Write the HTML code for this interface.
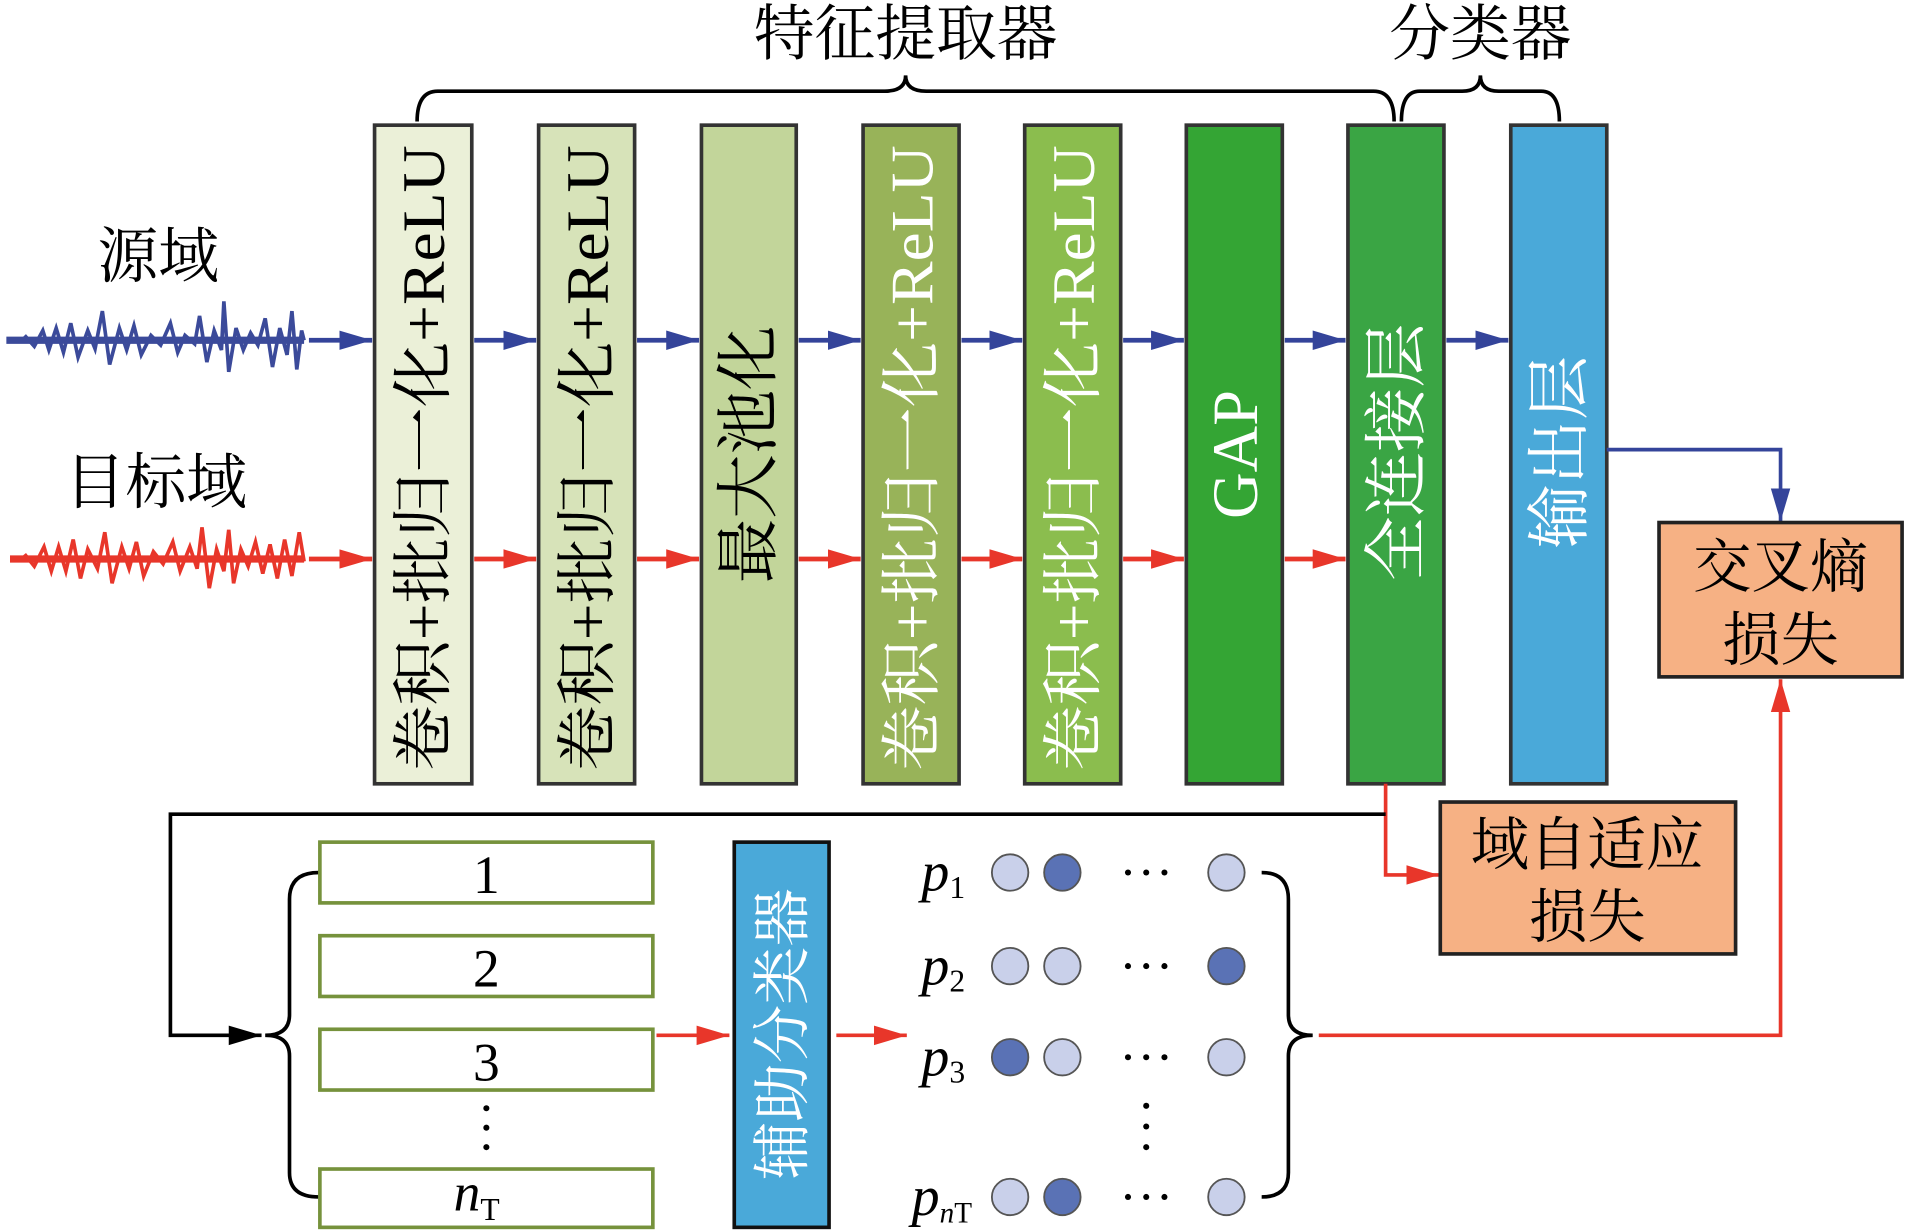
<!DOCTYPE html>
<html><head><meta charset="utf-8"><style>
html,body{margin:0;padding:0;background:#fff;}
svg{display:block;}
text{font-family:"Liberation Serif","Noto Serif CJK SC","Noto Sans CJK SC",serif;}
</style></head><body>
<svg width="1906" height="1231" viewBox="0 0 1568 1013" xmlns="http://www.w3.org/2000/svg">
<defs>
<marker id="ab" markerWidth="28" markerHeight="18" refX="27" refY="9" orient="auto" markerUnits="userSpaceOnUse"><path d="M0,1 L27,9 L0,17z" fill="#34449a"/></marker>
<marker id="ar" markerWidth="28" markerHeight="18" refX="27" refY="9" orient="auto" markerUnits="userSpaceOnUse"><path d="M0,1 L27,9 L0,17z" fill="#e8362a"/></marker>
<marker id="ak" markerWidth="28" markerHeight="18" refX="27" refY="9" orient="auto" markerUnits="userSpaceOnUse"><path d="M0,1 L27,9 L0,17z" fill="#000"/></marker>
</defs>
<!-- top labels and braces -->
<text x="745" y="45" font-size="50" text-anchor="middle">特征提取器</text>
<text x="1218" y="45" font-size="50" text-anchor="middle">分类器</text>
<path d="M343,100 Q343,75 360,75 L728,75 Q745,75 745,62 Q745,75 762,75 L1130,75 Q1147,75 1147,100" fill="none" stroke="#000" stroke-width="3"/>
<path d="M1153,100 Q1153,75 1168,75 L1203,75 Q1218,75 1218,62 Q1218,75 1233,75 L1268,75 Q1283,75 1283,100" fill="none" stroke="#000" stroke-width="3"/>
<!-- domain labels -->
<text x="130" y="228" font-size="50" text-anchor="middle">源域</text>
<text x="128" y="414" font-size="50" text-anchor="middle">目标域</text>
<!-- signals -->
<line x1="5" y1="280" x2="250" y2="280" stroke="#3b4a9a" stroke-width="6"/>
<path d="M20,276 L28,285 L35,272 L40,288 L46,270 L52,290 L58,266 L64,294 L72,272 L78,287 L84,256 L90,300 L98,270 L104,288 L110,268 L116,292 L124,276 L132,284 L140,266 L146,290 L152,276 L160,283 L164,260 L170,298 L176,272 L182,288 L184,248 L188,306 L194,270 L200,288 L206,274 L212,284 L218,262 L224,302 L230,270 L236,292 L240,256 L244,304 L248,272 L250,280" fill="none" stroke="#3b4a9a" stroke-width="3"/>
<line x1="8" y1="460" x2="250" y2="460" stroke="#e8362a" stroke-width="6"/>
<path d="M20,456 L28,466 L36,450 L42,470 L48,450 L54,470 L60,444 L66,476 L72,452 L80,468 L86,438 L92,480 L100,450 L106,468 L112,446 L118,474 L126,454 L134,464 L142,446 L148,470 L156,450 L162,468 L166,434 L172,484 L178,452 L184,470 L188,436 L192,480 L198,452 L204,466 L210,446 L216,472 L222,448 L228,476 L234,444 L240,474 L246,438 L250,462" fill="none" stroke="#e8362a" stroke-width="3"/>
<!-- blocks -->
<g stroke="#333" stroke-width="3">
<rect x="308" y="103" width="80" height="542" fill="#ebf0d8"/>
<rect x="443" y="103" width="79" height="542" fill="#d7e3b9"/>
<rect x="577" y="103" width="78" height="542" fill="#c2d59a"/>
<rect x="710" y="103" width="79" height="542" fill="#98b359"/>
<rect x="843" y="103" width="79" height="542" fill="#8bbd4e"/>
<rect x="976" y="103" width="79" height="542" fill="#34a534"/>
<rect x="1109" y="103" width="79" height="542" fill="#3aa544"/>
<rect x="1243" y="103" width="79" height="542" fill="#4aa9d9"/>
</g>
<g font-size="50" text-anchor="middle">
<text transform="translate(365,377) rotate(-90)" textLength="515" lengthAdjust="spacingAndGlyphs">卷积+批归一化+ReLU</text>
<text transform="translate(500,377) rotate(-90)" textLength="515" lengthAdjust="spacingAndGlyphs">卷积+批归一化+ReLU</text>
<text transform="translate(634,374) rotate(-90)" font-size="53">最大池化</text>
<text transform="translate(767,377) rotate(-90)" fill="#fff" textLength="515" lengthAdjust="spacingAndGlyphs">卷积+批归一化+ReLU</text>
<text transform="translate(900,377) rotate(-90)" fill="#fff" textLength="515" lengthAdjust="spacingAndGlyphs">卷积+批归一化+ReLU</text>
<text transform="translate(1034,374) rotate(-90)" fill="#fff" font-size="53">GAP</text>
<text transform="translate(1167,372) rotate(-90)" fill="#fff" font-size="53">全连接层</text>
<text transform="translate(1301,372) rotate(-90)" fill="#fff" font-size="53">输出层</text>
</g>
<!-- arrows -->
<g stroke="#34449a" stroke-width="4" marker-end="url(#ab)">
<line x1="254" y1="280" x2="306" y2="280"/>
<line x1="390" y1="280" x2="441" y2="280"/>
<line x1="524" y1="280" x2="575" y2="280"/>
<line x1="657" y1="280" x2="708" y2="280"/>
<line x1="791" y1="280" x2="841" y2="280"/>
<line x1="924" y1="280" x2="974" y2="280"/>
<line x1="1057" y1="280" x2="1107" y2="280"/>
<line x1="1190" y1="280" x2="1241" y2="280"/>
</g>
<g stroke="#e8362a" stroke-width="4" marker-end="url(#ar)">
<line x1="254" y1="460" x2="306" y2="460"/>
<line x1="390" y1="460" x2="441" y2="460"/>
<line x1="524" y1="460" x2="575" y2="460"/>
<line x1="657" y1="460" x2="708" y2="460"/>
<line x1="791" y1="460" x2="841" y2="460"/>
<line x1="924" y1="460" x2="974" y2="460"/>
<line x1="1057" y1="460" x2="1107" y2="460"/>
</g>
<!-- output to CE -->
<polyline points="1322,370 1465,370 1465,429" fill="none" stroke="#34449a" stroke-width="3" marker-end="url(#ab)"/>
<rect x="1365" y="430" width="200" height="127" fill="#f6b184" stroke="#222" stroke-width="3"/>
<text x="1465" y="483" font-size="48" text-anchor="middle">交叉熵</text>
<text x="1465" y="543" font-size="48" text-anchor="middle">损失</text>
<!-- domain adaptation -->
<polyline points="1140,645 1140,720 1184,720" fill="none" stroke="#e8362a" stroke-width="3" marker-end="url(#ar)"/>
<rect x="1185" y="660" width="243" height="125" fill="#f6b184" stroke="#222" stroke-width="3"/>
<text x="1306" y="712" font-size="48" text-anchor="middle">域自适应</text>
<text x="1306" y="771" font-size="48" text-anchor="middle">损失</text>
<!-- black feedback -->
<polyline points="1140,670 140,670 140,852 215,852" fill="none" stroke="#000" stroke-width="3" marker-end="url(#ak)"/>
<path d="M262,718 Q238,718 238,740 L238,835 Q238,852 218,852 Q238,852 238,869 L238,965 Q238,985 262,985" fill="none" stroke="#000" stroke-width="3"/>
<g fill="#fff" stroke="#76923c" stroke-width="3">
<rect x="263" y="693" width="274" height="50"/>
<rect x="263" y="770" width="274" height="50"/>
<rect x="263" y="847" width="274" height="50"/>
<rect x="263" y="962" width="274" height="48"/>
</g>
<g font-size="44" text-anchor="middle">
<text x="400" y="735">1</text>
<text x="400" y="812">2</text>
<text x="400" y="889">3</text>
<text x="392" y="996" font-style="italic">n<tspan font-size="26" font-style="normal" dy="8">T</tspan></text>
</g>
<g fill="#000"><circle cx="400" cy="912" r="2.5"/><circle cx="400" cy="928" r="2.5"/><circle cx="400" cy="944" r="2.5"/></g>
<line x1="540" y1="852" x2="600" y2="852" stroke="#e8362a" stroke-width="3" marker-end="url(#ar)"/>
<rect x="604" y="693" width="78" height="317" fill="#4aa9d9" stroke="#111" stroke-width="3"/>
<text transform="translate(660,851) rotate(-90)" font-size="48" text-anchor="middle" fill="#fff">辅助分类器</text>
<line x1="688" y1="852" x2="746" y2="852" stroke="#e8362a" stroke-width="3" marker-end="url(#ar)"/>
<!-- p rows -->
<g font-size="46" font-style="italic">
<text x="758" y="733">p<tspan font-size="26" font-style="normal" dy="6">1</tspan></text>
<text x="758" y="810">p<tspan font-size="26" font-style="normal" dy="6">2</tspan></text>
<text x="758" y="885">p<tspan font-size="26" font-style="normal" dy="6">3</tspan></text>
<text x="750" y="1000">p<tspan font-size="24" dy="6">n</tspan><tspan font-size="24" font-style="normal">T</tspan></text>
</g>
<g stroke="#555" stroke-width="1.5">
<circle cx="831" cy="718" r="15" fill="#c9d0ea"/><circle cx="874" cy="718" r="15" fill="#5a72b5"/><circle cx="1009" cy="718" r="15" fill="#c9d0ea"/>
<circle cx="831" cy="795" r="15" fill="#c9d0ea"/><circle cx="874" cy="795" r="15" fill="#c9d0ea"/><circle cx="1009" cy="795" r="15" fill="#5a72b5"/>
<circle cx="831" cy="870" r="15" fill="#5a72b5"/><circle cx="874" cy="870" r="15" fill="#c9d0ea"/><circle cx="1009" cy="870" r="15" fill="#c9d0ea"/>
<circle cx="831" cy="985" r="15" fill="#c9d0ea"/><circle cx="874" cy="985" r="15" fill="#5a72b5"/><circle cx="1009" cy="985" r="15" fill="#c9d0ea"/>
</g>
<g fill="#000">
<circle cx="928" cy="718" r="2.5"/><circle cx="943" cy="718" r="2.5"/><circle cx="958" cy="718" r="2.5"/>
<circle cx="928" cy="795" r="2.5"/><circle cx="943" cy="795" r="2.5"/><circle cx="958" cy="795" r="2.5"/>
<circle cx="928" cy="870" r="2.5"/><circle cx="943" cy="870" r="2.5"/><circle cx="958" cy="870" r="2.5"/>
<circle cx="928" cy="985" r="2.5"/><circle cx="943" cy="985" r="2.5"/><circle cx="958" cy="985" r="2.5"/>
<circle cx="943" cy="910" r="2.5"/><circle cx="943" cy="927" r="2.5"/><circle cx="943" cy="944" r="2.5"/>
</g>
<path d="M1038,718 Q1060,718 1060,740 L1060,835 Q1060,852 1080,852 Q1060,852 1060,869 L1060,965 Q1060,985 1038,985" fill="none" stroke="#000" stroke-width="3"/>
<polyline points="1085,852 1465,852 1465,559" fill="none" stroke="#e8362a" stroke-width="3" marker-end="url(#ar)"/>
</svg>
</body></html>
